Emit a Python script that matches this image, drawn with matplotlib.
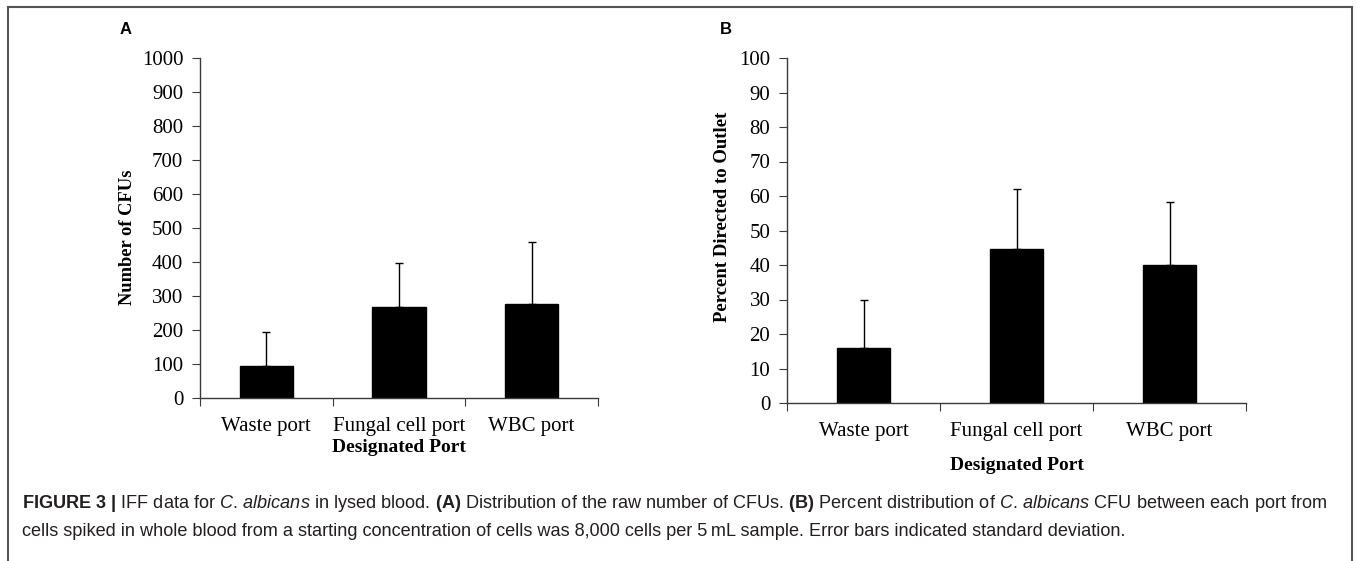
"""
Figure 3 recreation: CFU counts and percent distribution per designated port
"""

import matplotlib
matplotlib.use("Agg")

import matplotlib.pyplot as plt
from matplotlib.lines import Line2D

# ============================================
# data
# ============================================
ports = ["Waste port", "Fungal cell port", "WBC port"]

cfu_mean = [95, 268, 276]
cfu_sd = [100, 128, 182]

pct_mean = [15.8, 44.7, 39.9]
pct_sd = [14.2, 17.3, 18.4]

caption_1 = (r"$\mathbf{FIGURE\ 3\ |}$ IFF data for $\mathit{C}$. $\mathit{albicans}$ in lysed blood. "
             r"$\mathbf{(A)}$ Distribution of the raw number of CFUs. $\mathbf{(B)}$ Percent distribution of "
             r"$\mathit{C}$. $\mathit{albicans}$ CFU between each port from")
caption_2 = ("cells spiked in whole blood from a starting concentration of cells was 8,000 cells "
             "per 5\u2009mL sample. Error bars indicated standard deviation.")

plt.rcParams["font.family"] = ["Liberation Serif", "DejaVu Serif"]
plt.rcParams["mathtext.fontset"] = "custom"
plt.rcParams["mathtext.rm"] = "Liberation Sans"
plt.rcParams["mathtext.it"] = "Liberation Sans:italic"
plt.rcParams["mathtext.bf"] = "Liberation Sans:bold"

W, H = 1357, 561
fig = plt.figure(figsize=(W / 100, H / 100), dpi=100)

AXIS_COLOR = "#3a3a3a"


def px_rect(x0, x1, y_top, y_bot):
    return [x0 / W, 1 - y_bot / H, (x1 - x0) / W, (y_bot - y_top) / H]


def draw_panel(rect, means, sds, ymax, step, width, ylabel, ylabel_xy, ylabel_size,
               letter, letter_xy, xlabel_pad):
    ax = fig.add_axes(rect)
    x = list(range(len(ports)))
    ax.bar(x, means, width=width, color="black", edgecolor="black", zorder=2)
    ax.errorbar(x, means, yerr=[[0] * len(sds), sds], fmt="none", ecolor="black",
                elinewidth=1, capsize=3, capthick=1, zorder=1)

    ax.set_xlim(-0.5, len(ports) - 0.5)
    ax.set_ylim(0, ymax)
    ax.set_yticks(range(0, ymax + 1, step))
    ax.set_xticks([i - 0.5 for i in range(len(ports) + 1)])
    ax.set_xticklabels([])
    ax.set_xticks(x, minor=True)
    ax.set_xticklabels(ports, minor=True, fontsize=15)
    ax.tick_params(axis="x", which="minor", length=0, pad=14)
    ax.tick_params(axis="x", which="major", length=6, direction="out", color=AXIS_COLOR)
    ax.tick_params(axis="y", length=6, direction="out", labelsize=15, color=AXIS_COLOR, pad=6)

    for side in ["top", "right"]:
        ax.spines[side].set_visible(False)
    for side in ["left", "bottom"]:
        ax.spines[side].set_color(AXIS_COLOR)
        ax.spines[side].set_linewidth(1)

    ax.set_ylabel(ylabel, fontsize=ylabel_size, fontweight="bold")
    ax.yaxis.set_label_coords(*ylabel_xy)
    ax.set_xlabel("Designated Port", fontsize=14, fontweight="bold", labelpad=xlabel_pad)
    fig.text(letter_xy[0] / W, 1 - letter_xy[1] / H, letter, fontsize=12, fontweight="bold",
             family="Liberation Sans", ha="center", va="center")
    return ax


draw_panel(px_rect(200, 598, 58, 398), cfu_mean, cfu_sd, 1000, 100, 0.40,
           "Number of CFUs", (-0.161, 0.472), 13.3, "A", (126, 30), 1.5)
draw_panel(px_rect(787, 1246, 58, 403), pct_mean, pct_sd, 100, 10, 0.34,
           "Percent Directed to Outlet", (-0.122, 0.539), 13.5, "B", (726, 30), 11)

# frame around the figure (open at the bottom)
frame_kw = dict(color="#555555", linewidth=1.5, transform=fig.transFigure)
fig.add_artist(Line2D([8 / W, 8 / W], [0, 1 - 7 / H], **frame_kw))
fig.add_artist(Line2D([8 / W, 1352 / W], [1 - 7 / H, 1 - 7 / H], **frame_kw))
fig.add_artist(Line2D([1352 / W, 1352 / W], [0, 1 - 7 / H], **frame_kw))

cap_kw = dict(fontsize=13.1, family=["Liberation Sans", "DejaVu Sans"], color="#231f20",
              ha="left", va="center")
fig.text(22 / W, 1 - 503 / H, caption_1, **cap_kw)
fig.text(22 / W, 1 - 531 / H, caption_2, **cap_kw)

fig.savefig("out.png", dpi=100, facecolor="white")
